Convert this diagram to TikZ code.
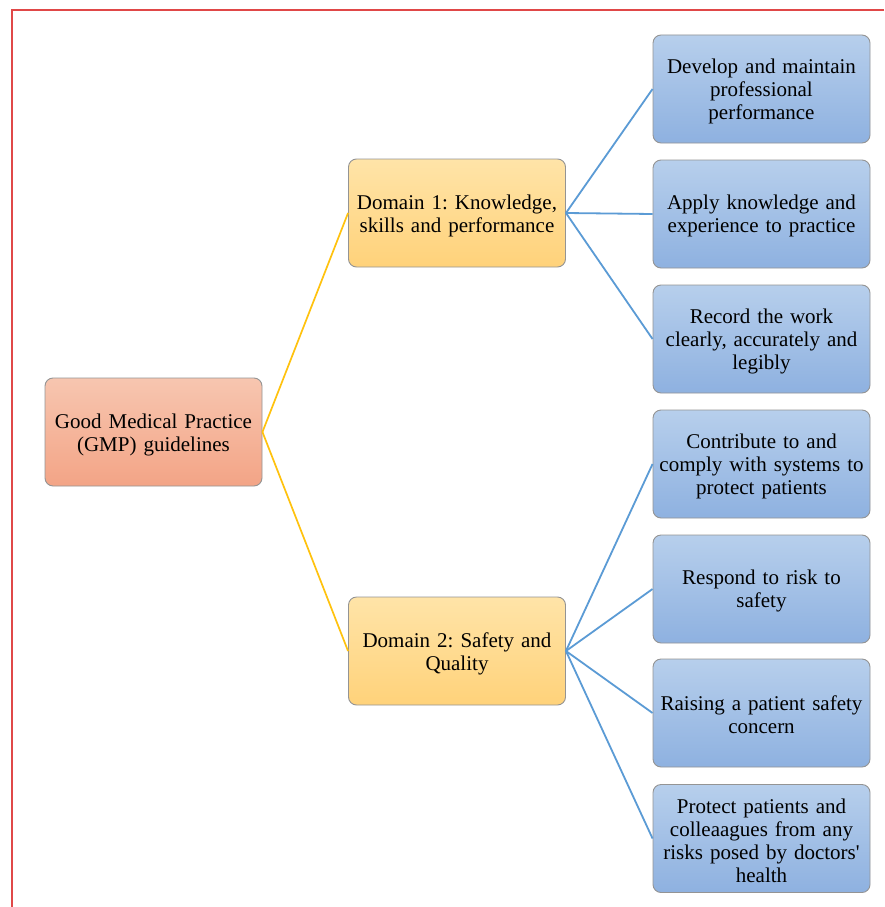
\documentclass[tikz,border=0pt]{standalone}
\usepackage{fontspec}
\newfontfamily\boxfont{Liberation Serif}
\definecolor{frameRed}{HTML}{E04848}
\definecolor{yLine}{HTML}{FFC20E}
\definecolor{bLine}{HTML}{5B9BD5}
\definecolor{rTop}{HTML}{F7C6B0}
\definecolor{rBot}{HTML}{F3A486}
\definecolor{oTop}{HTML}{FFE4A8}
\definecolor{oBot}{HTML}{FFD27A}
\definecolor{bTop}{HTML}{B7CFEC}
\definecolor{bBot}{HTML}{8EB1E0}
\begin{document}
\frenchspacing
\begin{tikzpicture}[x=1pt,y=1pt,
  boxbase/.style={draw=black!42, line width=0.9pt, rounded corners=8pt,
    minimum width=217pt, minimum height=108pt, inner sep=0pt},
  boxtext/.style={text width=211pt, align=center, inner sep=0pt,
    font=\boxfont\fontsize{21}{23}\selectfont},
  rootbox/.style={boxbase, top color=rTop, bottom color=rBot},
  dombox/.style={boxbase, top color=oTop, bottom color=oBot},
  leafbox/.style={boxbase, top color=bTop, bottom color=bBot},
  yconn/.style={draw=yLine, line width=1.7pt},
  bconn/.style={draw=bLine, line width=1.8pt}]
\useasboundingbox (0,0) rectangle (884,-907);
\fill[white] (0,0) rectangle (884,-907);
\draw[frameRed, line width=2pt] (884,-10) -- (12,-10) -- (12,-907);

\node[rootbox] (gmp) at (153.5,-432) {};
\node[dombox] (d1) at (457,-213) {};
\node[dombox] (d2) at (457,-651) {};
\node[leafbox] (l1) at (761.5,-89) {};
\node[leafbox] (l2) at (761.5,-214) {};
\node[leafbox] (l3) at (761.5,-339) {};
\node[leafbox] (l4) at (761.5,-464) {};
\node[leafbox] (l5) at (761.5,-589) {};
\node[leafbox] (l6) at (761.5,-713) {};
\node[leafbox] (l7) at (761.5,-838.5) {};

\node[boxtext] (tgmp) at ([yshift=-3pt]gmp.center) {Good Medical Practice\\(GMP) guidelines};
\node[boxtext] (td1) at ([yshift=-3pt]d1.center) {Domain 1: Knowledge,\\skills and performance};
\node[boxtext] (td2) at ([yshift=-3pt]d2.center) {Domain 2: Safety and\\Quality};
\node[boxtext] (tl1) at ([yshift=-2pt]l1.center) {Develop and maintain\\professional\\performance};
\node[boxtext] (tl2) at ([yshift=-2pt]l2.center) {Apply knowledge and\\experience to practice};
\node[boxtext] (tl3) at ([yshift=-2pt]l3.center) {Record the work\\clearly, accurately and\\legibly};
\node[boxtext] (tl4) at ([yshift=-2pt]l4.center) {Contribute to and\\comply with systems to\\protect patients};
\node[boxtext] (tl5) at ([yshift=-2pt]l5.center) {Respond to risk to\\safety};
\node[boxtext] (tl6) at ([yshift=-2pt]l6.center) {Raising a patient safety\\concern};
\node[boxtext] (tl7) at ([yshift=-2pt]l7.center) {Protect patients and\\colleaagues from any\\risks posed by doctors'\\health};

\draw[yconn] (gmp.east) -- (d1.west);
\draw[yconn] (gmp.east) -- (d2.west);
\foreach \n in {l1,l2,l3} \draw[bconn] (d1.east) -- (\n.west);
\foreach \n in {l4,l5,l6,l7} \draw[bconn] (d2.east) -- (\n.west);
\end{tikzpicture}
\end{document}
